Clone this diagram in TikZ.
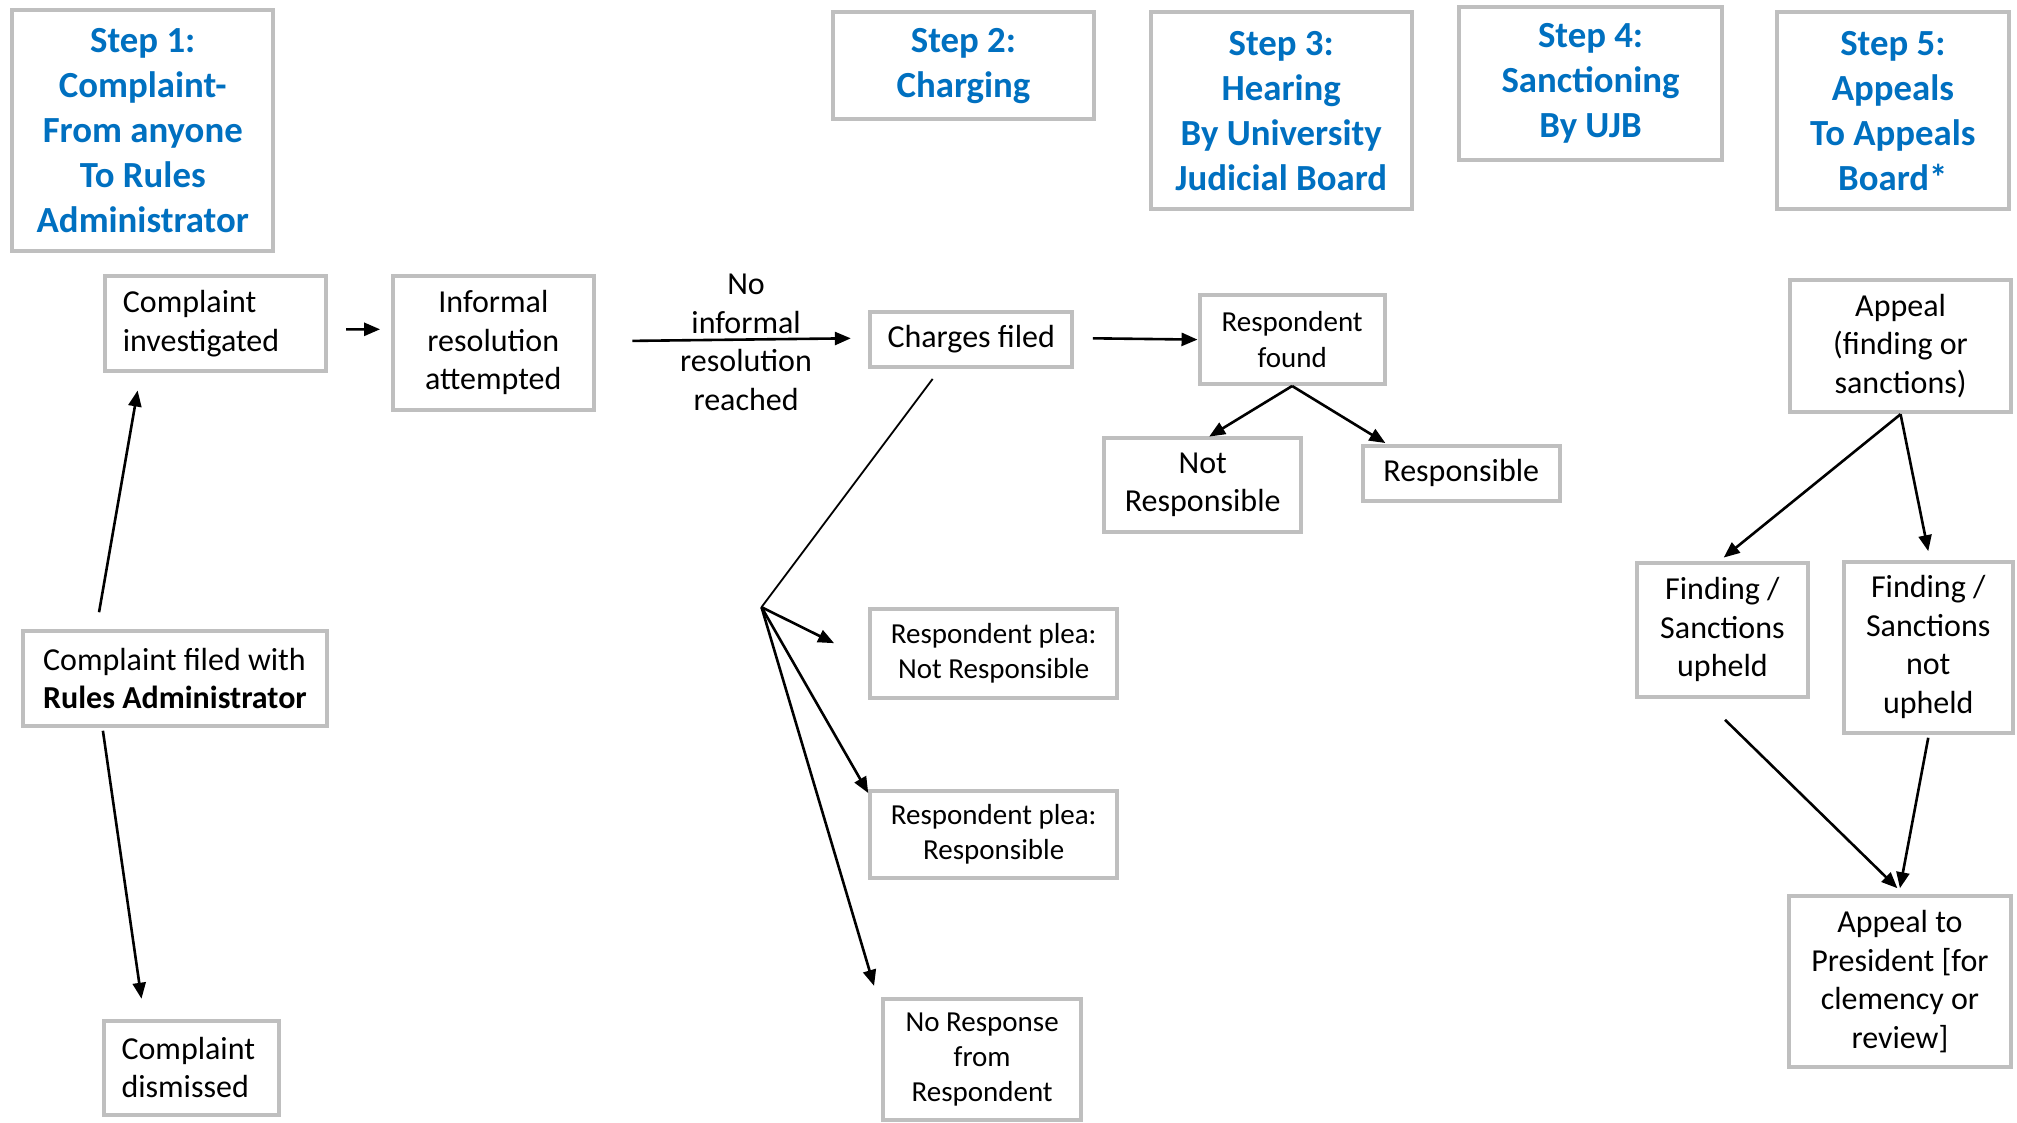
\documentclass[tikz,border=0pt]{standalone}
\usepackage{fontspec}
\setmainfont{Carlito}
\usetikzlibrary{arrows.meta,calc}
\definecolor{boxgray}{RGB}{191,191,191}
\definecolor{stepblue}{RGB}{0,112,192}
\begin{document}
\begin{tikzpicture}[x=0.6432pt,y=-0.6432pt,
  box/.style={draw=boxgray, line width=2pt, fill=white, align=center, inner sep=2pt,
    font=\fontsize{16pt}{19.3pt}\selectfont},
  smallbox/.style={box, font=\fontsize{14.5pt}{17.6pt}\selectfont},
  leftbox/.style={box, align=left, inner xsep=9pt},
  stepbox/.style={box, text=stepblue, font=\fontsize{18.4pt}{22.5pt}\selectfont\bfseries},
  arr/.style={line width=1.3pt, -{Triangle[length=8pt,width=6.5pt]}},
  thinline/.style={line width=0.9pt},
  lbl/.style={align=center, inner sep=0pt, font=\fontsize{16pt}{19.3pt}\selectfont}
]
\useasboundingbox (0,0) rectangle (1568,873);

% step headers
\node[stepbox, minimum width=130.6pt, minimum height=120.9pt] (s1) at (111,101.5)
  {Step 1:\\Complaint-\\From anyone\\To Rules\\Administrator};
\node[stepbox, minimum width=130.6pt, minimum height=53.4pt] (s2) at (749,51)
  {Step 2:\\Charging};
\node[stepbox, minimum width=130.6pt, minimum height=98.4pt] (s3) at (996,86)
  {Step 3:\\Hearing\\By University\\Judicial Board};
\node[stepbox, minimum width=131.2pt, minimum height=76.5pt] (s4) at (1236.5,65)
  {Step 4:\\Sanctioning\\By UJB};
\node[stepbox, minimum width=115.8pt, minimum height=98.4pt] (s5) at (1471.5,86)
  {Step 5:\\Appeals\\To Appeals\\Board*};

% step 1 column
\node[leftbox, minimum width=110.6pt, minimum height=47.6pt, text width=92.6pt] (ci) at (167.5,251.5)
  {Complaint\\investigated};
\node[box, align=left, minimum width=152.4pt, minimum height=47.6pt] (cf) at (136,527.5)
  {Complaint filed with\\\textbf{Rules Administrator}};
\node[leftbox, minimum width=87.5pt, minimum height=47pt, text width=69.5pt] (cd) at (148.5,830)
  {Complaint\\dismissed};
\node[box, minimum width=100.3pt, minimum height=66.9pt] (inf) at (383.5,266.5)
  {Informal\\resolution\\attempted};
\node[lbl] (nir) at (580,266) {No\\informal\\resolution\\reached};

% step 2
\node[box, minimum width=101pt, minimum height=27.7pt] (ch) at (755,264) {Charges filed};
\node[smallbox, minimum width=123.5pt, minimum height=44.4pt] (pnr) at (772.5,508)
  {Respondent plea:\\Not Responsible};
\node[smallbox, minimum width=123.5pt, minimum height=43.7pt] (pr) at (772.5,648.5)
  {Respondent plea:\\Responsible};
\node[smallbox, minimum width=99pt, minimum height=60.5pt] (nresp) at (763.5,823.5)
  {No Response\\from\\Respondent};
\coordinate (br) at (592,472);

% step 3
\node[smallbox, minimum width=92.6pt, minimum height=44.4pt] (rf) at (1004.5,264)
  {Respondent\\found};
\node[box, minimum width=98.4pt, minimum height=47pt] (nr) at (935,377)
  {Not\\Responsible};
\node[box, minimum width=98.4pt, minimum height=27.7pt] (rs) at (1136,368)
  {Responsible};

% step 5
\node[box, minimum width=110.6pt, minimum height=66.2pt] (ap) at (1477.5,269)
  {Appeal\\(finding or\\sanctions)};
\node[box, minimum width=85.5pt, minimum height=66.9pt] (fu) at (1339,489.5)
  {Finding /\\Sanctions\\upheld};
\node[box, minimum width=84.3pt, minimum height=85.5pt] (fnu) at (1499,503)
  {Finding /\\Sanctions\\not\\upheld};
\node[box, minimum width=111.3pt, minimum height=85.5pt] (atp) at (1477,763)
  {Appeal to\\President [for\\clemency or\\review]};

% connectors
\draw[arr] ($(cf.north)+(-59,-13)$) -- ($(ci.south)+(-60.5,13.5)$);
\draw[arr] ($(cf.south)+(-56,2)$) -- ($(cd.north)+(-38.5,-15.5)$);
\draw[arr] ($(ci.east)+(14,4.5)$) -- ($(inf.west)+(-8.5,-10.5)$);
\draw[arr] ($(inf.east)+(28.5,-1.5)$) -- ($(ch.west)+(-13.5,-1)$);
\draw[arr] ($(ch.east)+(14.5,-1)$) -- (rf.west);
\draw[arr] (rf.south) -- ($(nr.north)+(5,0.5)$);
\draw[arr] (rf.south) -- ($(rs.north)+(-59,-0.5)$);
\draw[thinline] ($(ch.south)+(-30,7.5)$) -- (br);
\draw[arr] (br) -- ($(pnr.west)+(-26.5,-8)$);
\draw[arr] (br) -- ($(pr.north west)+(0,3.5)$);
\draw[arr] (br) -- ($(nresp.north west)+(-5.5,-8.5)$);
\draw[arr] (ap.south) -- ($(fu.north)+(1,-2.5)$);
\draw[arr] (ap.south) -- ($(fnu.north)+(0,-6.5)$);
\draw[arr] ($(fu.south)+(2,16.5)$) -- ($(atp.north)+(-2,-4.5)$);
\draw[arr] ($(fnu.south)+(0,2.5)$) -- ($(atp.north)+(0,-4.5)$);
\end{tikzpicture}
\end{document}
